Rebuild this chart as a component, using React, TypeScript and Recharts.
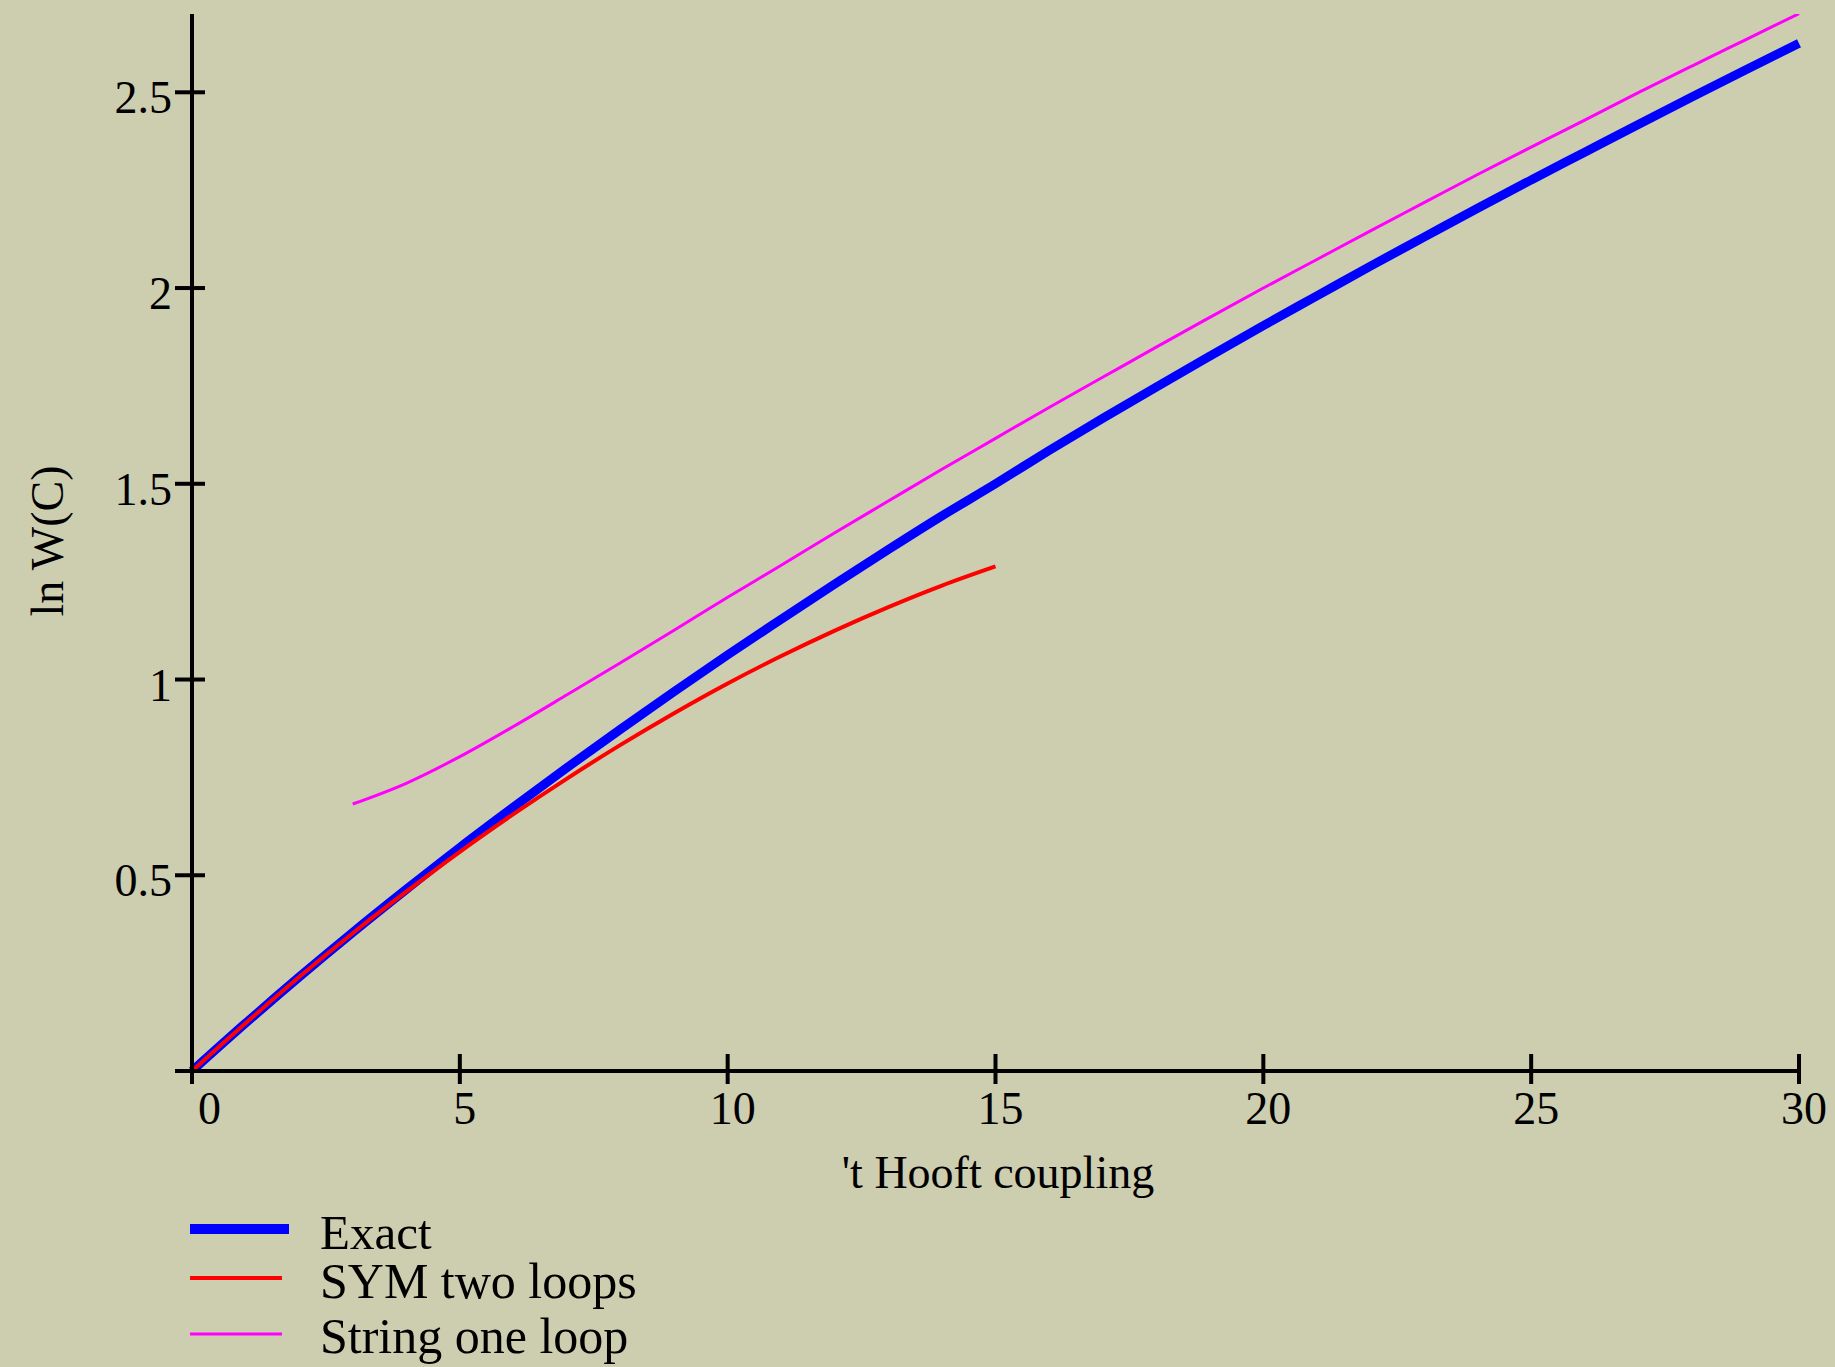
import React from "react";
import { Line, LineChart, XAxis, YAxis } from "recharts";

// 't Hooft coupling, sampled at integers
const LAMBDA = [
  0, 1, 2, 3, 4, 5, 6, 7, 8, 9, 10, 11, 12, 13, 14, 15,
  16, 17, 18, 19, 20, 21, 22, 23, 24, 25, 26, 27, 28, 29, 30,
];

const EXACT = [
  0, 0.122, 0.24, 0.354, 0.464, 0.571, 0.674, 0.775, 0.873, 0.969, 1.063,
  1.154, 1.244, 1.332, 1.418, 1.5, 1.585, 1.667, 1.747, 1.826, 1.904,
  1.98, 2.056, 2.13, 2.204, 2.276, 2.347, 2.418, 2.488, 2.557, 2.625,
];

// SYM two loops, lambda 0..15
const SYM_TWO_LOOPS = [
  0, 0.122, 0.24, 0.352, 0.458, 0.56, 0.656, 0.747, 0.833, 0.914, 0.99,
  1.06, 1.125, 1.185, 1.24, 1.289,
];

// String one loop, lambda 3..30
const STRING_START = 3;
const STRING_ONE_LOOP = [
  0.682, 0.735, 0.803, 0.88, 0.961, 1.043, 1.126, 1.21, 1.292, 1.375,
  1.456, 1.537, 1.616, 1.695, 1.772, 1.849, 1.925, 2.0, 2.073, 2.146,
  2.218, 2.29, 2.36, 2.429, 2.499, 2.567, 2.634, 2.701,
];

const X_TICKS = [0, 5, 10, 15, 20, 25, 30];
const Y_TICKS = [0.5, 1, 1.5, 2, 2.5];

const SERIES = [
  { key: "exact", name: "Exact", color: "#0000ff", width: 9 },
  { key: "sym", name: "SYM two loops", color: "#ff0000", width: 4 },
  { key: "string", name: "String one loop", color: "#ff00ff", width: 3 },
];

const BG = "#cdcdaf";
const FONT = "'Liberation Serif', 'Times New Roman', serif";

const data = LAMBDA.map((x, i) => ({
  x,
  exact: EXACT[i],
  sym: i < SYM_TWO_LOOPS.length ? SYM_TWO_LOOPS[i] : null,
  string: x >= STRING_START ? STRING_ONE_LOOP[i - STRING_START] : null,
}));

function XTick(props: any) {
  const { x, y, payload, index } = props;
  const first = index === 0;
  return (
    <g>
      {first && <line x1={x - 17} y1={y} x2={x} y2={y} stroke="#000" strokeWidth={4} />}
      <line x1={x} y1={y - 17} x2={x} y2={y + 13} stroke="#000" strokeWidth={4} />
      <text
        x={first ? x + 6 : x + 5}
        y={y + 53}
        textAnchor={first ? "start" : "middle"}
        fontFamily={FONT}
        fontSize={46}
        fill="#000"
      >
        {payload.value}
      </text>
    </g>
  );
}

function YTick(props: any) {
  const { x, y, payload } = props;
  return (
    <g>
      <line x1={x - 17} y1={y} x2={x + 13} y2={y} stroke="#000" strokeWidth={4} />
      <text x={x - 20} y={y + 21} textAnchor="end" fontFamily={FONT} fontSize={46} fill="#000">
        {payload.value}
      </text>
    </g>
  );
}

export default function App() {
  return (
    <div style={{ position: "absolute", left: 0, top: 0, width: 1835, height: 1367, background: BG }}>
      <LineChart
        width={1835}
        height={1367}
        data={data}
        margin={{ top: 14, right: 36, bottom: 0, left: 0 }}
      >
        <XAxis
          dataKey="x"
          type="number"
          domain={[0, 30]}
          ticks={X_TICKS}
          height={296}
          axisLine={{ stroke: "#000", strokeWidth: 4 }}
          tickLine={false}
          tickSize={0}
          tickMargin={0}
          tick={<XTick />}
          interval={0}
        />
        <YAxis
          type="number"
          domain={[0, 2.7]}
          allowDataOverflow
          ticks={Y_TICKS}
          width={192}
          axisLine={{ stroke: "#000", strokeWidth: 4 }}
          tickLine={false}
          tickSize={0}
          tickMargin={0}
          tick={<YTick />}
          interval={0}
        />
        {SERIES.map((s) => (
          <Line
            key={s.key}
            dataKey={s.key}
            name={s.name}
            type="monotone"
            stroke={s.color}
            strokeWidth={s.width}
            dot={false}
            activeDot={false}
            connectNulls={false}
            isAnimationActive={false}
          />
        ))}
      </LineChart>
      <svg
        width={1835}
        height={1367}
        style={{ position: "absolute", left: 0, top: 0, pointerEvents: "none" }}
      >
        <text x={998} y={1188} textAnchor="middle" fontFamily={FONT} fontSize={46} fill="#000">
          't Hooft coupling
        </text>
        <text
          x={63}
          y={541}
          transform="rotate(-90 63 541)"
          textAnchor="middle"
          fontFamily={FONT}
          fontSize={46}
          fill="#000"
        >
          ln W(C)
        </text>
        <line x1={190} y1={1229} x2={289} y2={1229} stroke="#0000ff" strokeWidth={10} />
        <text x={320} y={1249} fontFamily={FONT} fontSize={49} fill="#000">Exact</text>
        <line x1={190} y1={1278} x2={282} y2={1278} stroke="#ff0000" strokeWidth={4} />
        <text x={320} y={1298} fontFamily={FONT} fontSize={50} fill="#000">SYM two loops</text>
        <line x1={190} y1={1334} x2={282} y2={1334} stroke="#ff00ff" strokeWidth={3} />
        <text x={320} y={1353} fontFamily={FONT} fontSize={50} fill="#000">String one loop</text>
      </svg>
    </div>
  );
}
